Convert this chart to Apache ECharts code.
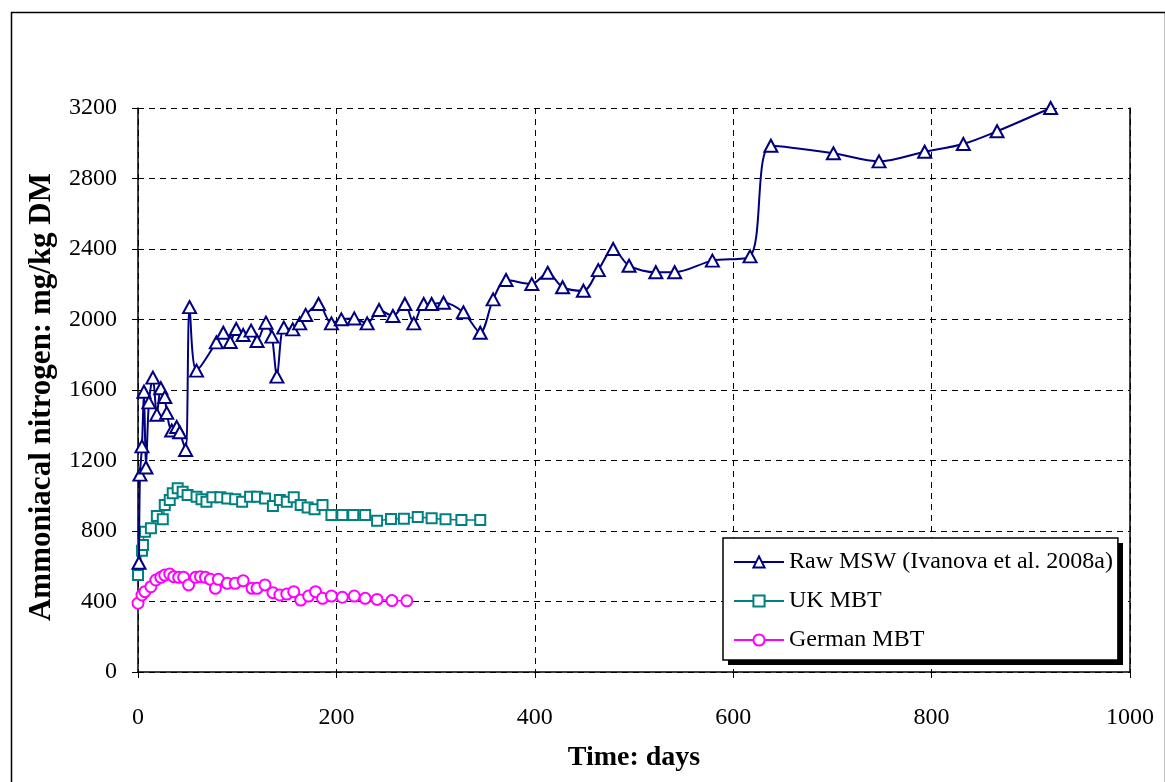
<!DOCTYPE html>
<html>
<head>
<meta charset="utf-8">
<script src="https://cdn.jsdelivr.net/npm/echarts@6/dist/echarts.min.js"></script>
<style>
  html, body { margin: 0; padding: 0; background: #fff; }
  #chart { width: 1165px; height: 782px; }
</style>
</head>
<body>
<div id="chart"></div>
<script>
// values
const rawDays = [1, 2, 4, 6, 8, 11, 15, 19, 23, 27, 29, 34, 39, 42, 48, 52, 59, 79, 86, 93, 99, 106, 114, 120, 129, 135, 140, 147, 156, 163, 169, 182, 195, 205, 218, 231, 243, 257, 269, 278, 288, 296, 308, 328, 345, 358, 371, 397, 413, 428, 449, 464, 479, 495, 522, 541, 579, 617, 638, 701, 747, 793, 832, 866, 920];
const rawVals = [620, 1120, 1280, 1590, 1160, 1530, 1670, 1460, 1610, 1560, 1470, 1370, 1390, 1360, 1260, 2070, 1710, 1870, 1925, 1872, 1946, 1912, 1937, 1878, 1982, 1903, 1676, 1954, 1944, 1978, 2026, 2088, 1978, 2001, 2006, 1978, 2054, 2020, 2088, 1978, 2088, 2088, 2095, 2041, 1925, 2114, 2224, 2201, 2265, 2183, 2163, 2280, 2400, 2305, 2268, 2268, 2334, 2358, 2986, 2943, 2897, 2952, 2996, 3068, 3200];

const ukDays = [0, 4, 5, 7, 13, 19, 25, 27, 32, 35, 40, 45, 50, 59, 64, 69, 75, 83, 90, 98, 105, 113, 120, 128, 136, 143, 150, 157, 164, 171, 178, 186, 195, 206, 217, 229, 241, 255, 268, 282, 296, 310, 326, 345];
const ukVals = [550, 688, 720, 796, 815, 885, 866, 947, 976, 1014, 1042, 1023, 1004, 995, 980, 966, 991, 991, 985, 980, 966, 995, 995, 985, 942, 976, 966, 991, 947, 934, 923, 947, 891, 891, 891, 891, 858, 868, 870, 880, 872, 866, 863, 863];

const deDays = [0, 4, 7, 13, 18, 23, 27, 32, 36, 41, 46, 51, 58, 63, 68, 73, 78, 81, 90, 98, 106, 115, 120, 128, 136, 143, 150, 157, 164, 172, 179, 186, 195, 206, 218, 229, 241, 256, 271];
const deVals = [390, 437, 456, 484, 522, 537, 550, 556, 541, 537, 537, 494, 537, 541, 537, 526, 475, 526, 503, 503, 518, 475, 475, 494, 450, 437, 442, 456, 408, 431, 456, 418, 431, 424, 431, 418, 412, 405, 404];

const seriesNames = ['Raw MSW (Ivanova et al. 2008a)', 'UK MBT', 'German MBT'];
const xTicks = { min: 0, max: 1000, interval: 200 };
const yTicks = { min: 0, max: 3200, interval: 400 };

function pairs(xs, ys) {
  return xs.map((x, i) => [x, ys[i]]);
}

const font = '"Liberation Serif", "Times New Roman", serif';
const chart = echarts.init(document.getElementById('chart'));

const dashed = { show: true, lineStyle: { color: '#000', type: [6, 5], width: 1 } };
const plain = v => String(v);

chart.setOption({
  backgroundColor: '#fff',
  animation: false,
  textStyle: { fontFamily: font, color: '#000' },
  graphic: [{
    type: 'rect',
    left: 9, top: 10,
    shape: { width: 1154, height: 800 },
    style: { fill: null, stroke: '#000', lineWidth: 1.5 },
    silent: true
  }, {
    // legend drop shadow
    type: 'rect',
    left: 728, top: 543,
    shape: { width: 395, height: 122 },
    style: { fill: '#000' },
    z: 5,
    silent: true
  }],
  grid: { left: 138, right: 35, top: 108, bottom: 110 },
  legend: {
    orient: 'vertical',
    left: 723, top: 538,
    data: seriesNames,
    itemWidth: 50, itemHeight: 14,
    itemGap: 15,
    padding: [12, 5, 8, 10],
    backgroundColor: '#fff',
    borderColor: '#000', borderWidth: 1.5,
    z: 10,
    textStyle: { fontFamily: font, fontSize: 24, color: '#000', lineHeight: 24 }
  },
  xAxis: {
    type: 'value',
    min: xTicks.min, max: xTicks.max, interval: xTicks.interval,
    name: 'Time: days',
    nameLocation: 'middle',
    nameGap: 72,
    nameTextStyle: { fontFamily: font, fontSize: 28, fontWeight: 'bold', color: '#000' },
    axisLine: { lineStyle: { color: '#000', width: 1.5 } },
    axisTick: { show: true, length: 6, lineStyle: { color: '#000' } },
    axisLabel: { fontFamily: font, fontSize: 24, color: '#000', margin: 34, formatter: plain },
    splitLine: dashed
  },
  yAxis: [{
    type: 'value',
    min: yTicks.min, max: yTicks.max, interval: yTicks.interval,
    name: 'Ammoniacal nitrogen: mg/kg DM',
    nameLocation: 'middle',
    nameGap: 81,
    nameTextStyle: { fontFamily: font, fontSize: 31, fontWeight: 'bold', color: '#000', padding: [0, 14, 0, 0] },
    axisLine: { show: true, lineStyle: { color: '#000', width: 1.5 } },
    axisTick: { show: true, length: 6, lineStyle: { color: '#000' } },
    axisLabel: { fontFamily: font, fontSize: 24, color: '#000', margin: 21, formatter: plain },
    splitLine: dashed
  }, {
    type: 'value',
    position: 'right',
    min: yTicks.min, max: yTicks.max, interval: yTicks.interval,
    axisLine: { show: true, lineStyle: { color: '#000', width: 1.5 } },
    axisTick: { show: false },
    axisLabel: { show: false },
    splitLine: { show: false }
  }],
  series: [{
    name: seriesNames[0],
    type: 'line',
    smooth: 0.3,
    data: pairs(rawDays, rawVals),
    symbol: 'emptyTriangle',
    symbolSize: [13, 12],
    color: '#000080',
    lineStyle: { color: '#000080', width: 2 },
    itemStyle: { color: '#000080', borderWidth: 2 },
    z: 3
  }, {
    name: seriesNames[1],
    type: 'line',
    smooth: 0.3,
    data: pairs(ukDays, ukVals),
    symbol: 'emptyRect',
    symbolSize: 10,
    color: '#008080',
    lineStyle: { color: '#008080', width: 1.5 },
    itemStyle: { color: '#008080', borderWidth: 2 },
    z: 2
  }, {
    name: seriesNames[2],
    type: 'line',
    smooth: 0.3,
    data: pairs(deDays, deVals),
    symbol: 'emptyCircle',
    symbolSize: 11,
    color: '#ff00ff',
    lineStyle: { color: '#ff00ff', width: 1.5 },
    itemStyle: { color: '#ff00ff', borderWidth: 2 },
    z: 2
  }]
});
</script>
</body>
</html>
